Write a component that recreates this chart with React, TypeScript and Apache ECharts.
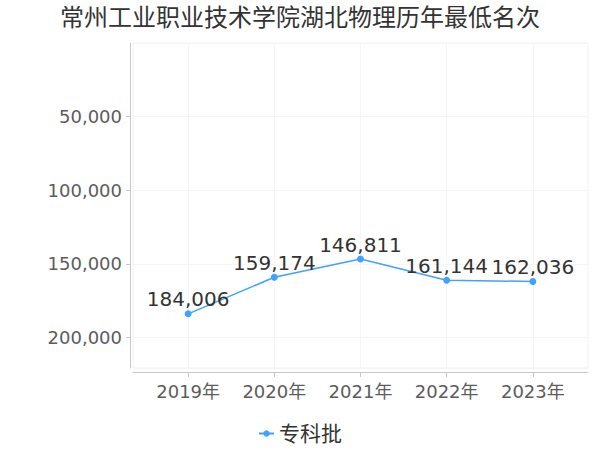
import React, { useEffect, useRef } from "react";
import * as echarts from "echarts";

const title = "常州工业职业技术学院湖北物理历年最低名次";
const years = ["2019年", "2020年", "2021年", "2022年", "2023年"];
const seriesName = "专科批";
const values = [184006, 159174, 146811, 161144, 162036];
const yMax = 220807;

const FONT = "'DejaVu Sans', 'Noto Sans CJK SC', sans-serif";

export default function App() {
  const ref = useRef<HTMLDivElement>(null);
  useEffect(() => {
    document.body.style.margin = "0";
    if (!ref.current) return;
    const chart = echarts.init(ref.current, undefined, { renderer: "svg" });
    const idx = years.map((_, i) => i);
    chart.setOption({
      animation: false,
      textStyle: { fontFamily: FONT },
      title: {
        text: title,
        left: "center",
        top: 1,
        textStyle: { fontSize: 24, color: "#333", fontWeight: "normal", fontFamily: FONT },
      },
      legend: {
        data: [seriesName],
        top: 418,
        left: "center",
        itemWidth: 15,
        itemHeight: 8,
        itemGap: 6,
        textStyle: { fontSize: 21, color: "#333", fontFamily: FONT },
      },
      grid: {
        left: 133,
        right: 12,
        top: 43,
        bottom: 82,
        show: true,
        borderColor: "#f2f2f2",
        borderWidth: 1,
      },
      xAxis: {
        type: "value",
        min: -0.64,
        max: 4.64,
        offset: 4,
        axisLine: { show: true, onZero: false, lineStyle: { color: "#c8c8c8" } },
        axisTick: { show: true, length: 5, customValues: idx, lineStyle: { color: "#c8c8c8" } },
        axisLabel: {
          customValues: idx,
          formatter: (v: number) => years[Math.round(v)] ?? "",
          fontSize: 18,
          color: "#5c5c5c",
          margin: 10,
          fontFamily: FONT,
        },
        splitLine: { show: true, lineStyle: { color: "#f5f5f5" } },
      },
      yAxis: {
        type: "value",
        inverse: true,
        min: 0,
        max: yMax,
        interval: 50000,
        offset: 3,
        axisLine: { show: true, onZero: false, lineStyle: { color: "#c8c8c8" } },
        axisTick: { show: true, length: 4, lineStyle: { color: "#c8c8c8" } },
        axisLabel: {
          showMinLabel: false,
          showMaxLabel: false,
          fontSize: 18,
          color: "#5c5c5c",
          margin: 8,
          fontFamily: FONT,
          formatter: (v: number) => v.toLocaleString("en-US"),
        },
        splitLine: { show: true, lineStyle: { color: "#f5f5f5" } },
      },
      series: [
        {
          name: seriesName,
          type: "line",
          data: values.map((v, i) => [i, v]),
          symbol: "circle",
          symbolSize: 7,
          itemStyle: { color: "#3fa2ff" },
          lineStyle: { color: "#3fa2ff", width: 1.5 },
          label: {
            show: true,
            position: "top",
            distance: 1,
            fontSize: 20,
            color: "#333",
            fontFamily: FONT,
            formatter: (p: any) => (p.value[1] as number).toLocaleString("en-US"),
          },
        },
      ],
    });
    return () => chart.dispose();
  }, []);
  return <div ref={ref} style={{ width: 600, height: 450 }} />;
}
